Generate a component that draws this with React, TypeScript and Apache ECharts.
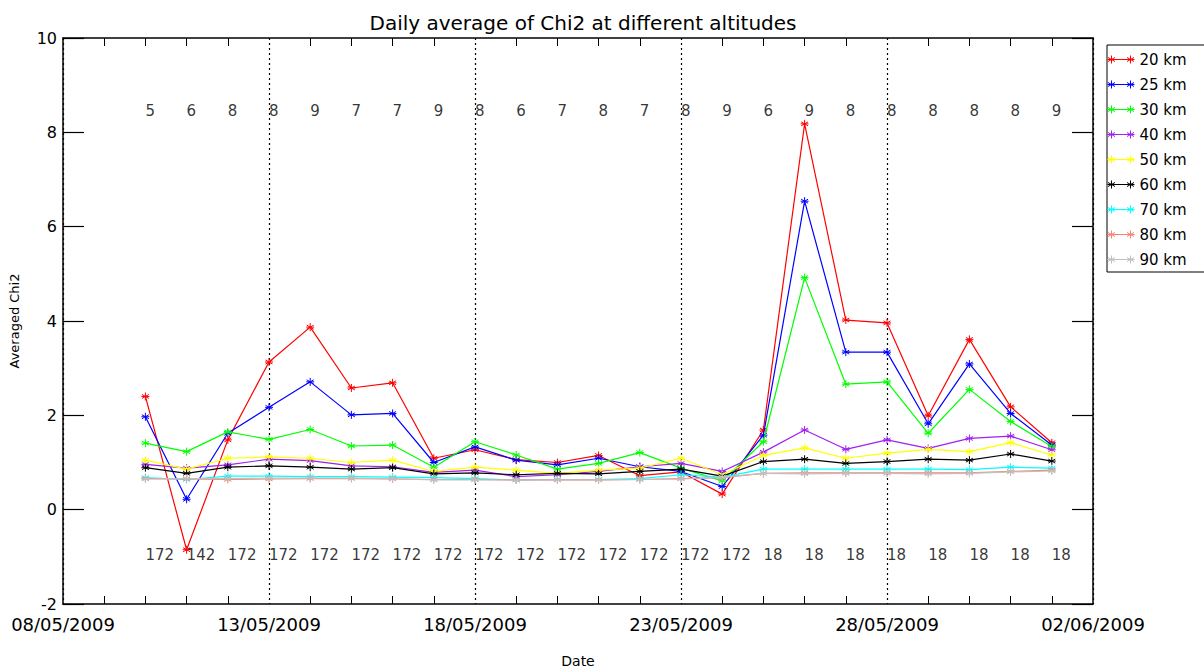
import React, { useEffect, useRef } from "react";
import * as echarts from "echarts";

// Dates of the daily points (10/05/2009 .. 01/06/2009)
const dates = [
  "10/05/2009", "11/05/2009", "12/05/2009", "13/05/2009", "14/05/2009", "15/05/2009",
  "16/05/2009", "17/05/2009", "18/05/2009", "19/05/2009", "20/05/2009", "21/05/2009",
  "22/05/2009", "23/05/2009", "24/05/2009", "25/05/2009", "26/05/2009", "27/05/2009",
  "28/05/2009", "29/05/2009", "30/05/2009", "31/05/2009", "01/06/2009",
];

const xTickLabels = ["08/05/2009", "13/05/2009", "18/05/2009", "23/05/2009", "28/05/2009", "02/06/2009"];

const km20 = [2.4, -0.85, 1.48, 3.13, 3.87, 2.58, 2.69, 1.09, 1.27, 1.06, 1.0, 1.15, 0.72, 0.8, 0.33, 1.69, 8.18, 4.02, 3.96, 1.99, 3.61, 2.18, 1.42];
const km25 = [1.97, 0.22, 1.62, 2.17, 2.71, 2.01, 2.04, 1.0, 1.33, 1.05, 0.95, 1.09, 0.91, 0.81, 0.49, 1.58, 6.54, 3.34, 3.34, 1.82, 3.09, 2.04, 1.37];
const km30 = [1.41, 1.23, 1.65, 1.49, 1.7, 1.35, 1.37, 0.9, 1.44, 1.16, 0.86, 0.98, 1.21, 0.88, 0.61, 1.44, 4.92, 2.66, 2.71, 1.62, 2.55, 1.87, 1.34];
const km40 = [0.96, 0.88, 0.95, 1.07, 1.04, 0.93, 0.91, 0.79, 0.84, 0.7, 0.74, 0.81, 0.91, 0.98, 0.81, 1.22, 1.69, 1.28, 1.48, 1.3, 1.51, 1.56, 1.27];
const km50 = [1.05, 0.86, 1.09, 1.12, 1.09, 1.0, 1.05, 0.81, 0.9, 0.84, 0.77, 0.84, 0.88, 1.09, 0.74, 1.15, 1.31, 1.09, 1.2, 1.28, 1.23, 1.42, 1.16];
const km60 = [0.89, 0.77, 0.9, 0.93, 0.9, 0.86, 0.89, 0.76, 0.78, 0.74, 0.77, 0.76, 0.81, 0.86, 0.71, 1.02, 1.07, 0.98, 1.02, 1.07, 1.05, 1.18, 1.03];
const km70 = [0.68, 0.64, 0.71, 0.71, 0.7, 0.7, 0.69, 0.68, 0.66, 0.63, 0.64, 0.64, 0.66, 0.74, 0.69, 0.86, 0.86, 0.86, 0.86, 0.86, 0.85, 0.9, 0.88];
const km80 = [0.66, 0.65, 0.64, 0.65, 0.66, 0.66, 0.65, 0.64, 0.64, 0.63, 0.63, 0.63, 0.64, 0.66, 0.68, 0.77, 0.78, 0.78, 0.78, 0.78, 0.78, 0.81, 0.84];
const km90 = [0.65, 0.66, 0.66, 0.67, 0.67, 0.67, 0.66, 0.63, 0.63, 0.63, 0.63, 0.63, 0.64, 0.65, 0.69, 0.77, 0.76, 0.77, 0.77, 0.76, 0.77, 0.8, 0.82];

const topCounts = [5, 6, 8, 8, 9, 7, 7, 9, 8, 6, 7, 8, 7, 8, 9, 6, 9, 8, 8, 8, 8, 8, 9];
const bottomCounts = [172, 142, 172, 172, 172, 172, 172, 172, 172, 172, 172, 172, 172, 172, 172, 18, 18, 18, 18, 18, 18, 18, 18];

const seriesNames = ["20 km", "25 km", "30 km", "40 km", "50 km", "60 km", "70 km", "80 km", "90 km"];
const seriesValues = [km20, km25, km30, km40, km50, km60, km70, km80, km90];
const seriesColors = ["#ff0000", "#0000ff", "#00ff00", "#a020f0", "#ffff00", "#000000", "#00ffff", "#fa8072", "#c0c0c0"];

const TOP_LABEL_Y = 8.45;
const BOTTOM_LABEL_Y = -0.96;

const FONT = "DejaVu Sans";

function dayOffset(s: string): number {
  const [d, m, y] = s.split("/").map(Number);
  const [d0, m0, y0] = xTickLabels[0].split("/").map(Number);
  return (Date.UTC(y, m - 1, d) - Date.UTC(y0, m0 - 1, d0)) / 86400000;
}

const STAR = "path://M5,0 L5,10 M0.67,2.5 L9.33,7.5 M0.67,7.5 L9.33,2.5 M0,5 L10,5";
const LEGEND_ICON =
  "path://M0,5 L27,5 M4,1 L4,9 M0.5,3 L7.5,7 M0.5,7 L7.5,3 M23,1 L23,9 M19.5,3 L26.5,7 M19.5,7 L26.5,3";

export default function App() {
  const ref = useRef<HTMLDivElement>(null);

  useEffect(() => {
    if (!ref.current) return;
    const chart = echarts.init(ref.current, null, { renderer: "svg" });
    const xs = dates.map(dayOffset);

    const lineSeries = seriesNames.map((name, i) => ({
      name,
      type: "line",
      data: seriesValues[i].map((v, j) => [xs[j], v]),
      symbol: STAR,
      symbolSize: 8,
      showAllSymbol: true,
      lineStyle: { color: seriesColors[i], width: 1.2 },
      itemStyle: { color: seriesColors[i], borderColor: seriesColors[i], borderWidth: 1 },
      xAxisIndex: 0,
      yAxisIndex: 0,
      z: 2 + i,
    }));

    const countLabel = (size: number) => ({
      show: true,
      position: "inside",
      align: "left",
      verticalAlign: "middle",
      color: "#000",
      fontSize: size,
      fontFamily: FONT,
      formatter: (p: any) => String(p.value[2]),
    });

    const option: any = {
      animation: false,
      textStyle: { fontFamily: FONT, color: "#000" },
      title: {
        text: "Daily average of Chi2 at different altitudes",
        left: 578,
        textAlign: "center",
        top: 8,
        textStyle: { fontSize: 20, fontWeight: "normal", color: "#000", fontFamily: FONT },
      },
      legend: {
        data: seriesNames,
        orient: "vertical",
        left: 1107,
        top: 45,
        icon: LEGEND_ICON,
        itemWidth: 27,
        itemHeight: 10,
        itemGap: 10,
        padding: [7, 80, 5, 0],
        borderColor: "#000",
        borderWidth: 1,
        selectedMode: false,
        itemStyle: { borderWidth: 1 },
        textStyle: { fontSize: 15, lineHeight: 14, color: "#000", fontFamily: FONT },
      },
      grid: { left: 63, top: 38, right: 111, bottom: 64, outerBoundsMode: "none", containLabel: false },
      xAxis: [
        {
          type: "value",
          min: 0,
          max: 25,
          interval: 5,
          position: "bottom",
          name: "Date",
          nameLocation: "middle",
          nameGap: 50,
          nameTextStyle: { fontSize: 14, color: "#000", fontFamily: FONT },
          axisLine: { onZero: false, lineStyle: { color: "#000", width: 1.5 } },
          axisTick: { show: false, inside: true },
          minorTick: { show: true, splitNumber: 5, length: 8, lineStyle: { color: "#000", width: 1 } },
          axisLabel: {
            margin: 11,
            fontSize: 18,
            color: "#000",
            fontFamily: FONT,
            formatter: (v: number) => xTickLabels[Math.round(v / 5)] ?? "",
          },
          splitLine: { show: true, lineStyle: { color: "#000", width: 1.2, type: [2, 3] } },
        },
        {
          type: "value",
          min: 0,
          max: 25,
          interval: 5,
          position: "top",
          axisLine: { onZero: false, lineStyle: { color: "#000", width: 1.5 } },
          axisTick: { show: false, inside: true },
          minorTick: { show: true, splitNumber: 5, length: 8, lineStyle: { color: "#000", width: 1 } },
          axisLabel: { show: false },
          splitLine: { show: false },
        },
      ],
      yAxis: [
        {
          type: "value",
          min: -2,
          max: 10,
          interval: 2,
          position: "left",
          name: "Averaged Chi2",
          nameLocation: "middle",
          nameGap: 42,
          nameRotate: 90,
          nameTextStyle: { fontSize: 13, color: "#000", fontFamily: FONT },
          axisLine: { show: true, onZero: false, lineStyle: { color: "#000", width: 1.5 } },
          axisTick: { show: true, inside: true, length: 21, lineStyle: { color: "#000", width: 1.2 } },
          axisLabel: { margin: 6, fontSize: 16, color: "#000", fontFamily: FONT },
          splitLine: { show: false },
        },
        {
          type: "value",
          min: -2,
          max: 10,
          interval: 2,
          position: "right",
          axisLine: { show: true, onZero: false, lineStyle: { color: "#000", width: 1.5 } },
          axisTick: { show: true, inside: true, length: 21, lineStyle: { color: "#000", width: 1.2 } },
          axisLabel: { show: false },
          splitLine: { show: false },
        },
      ],
      series: [
        ...lineSeries,
        {
          name: "topCounts",
          type: "scatter",
          data: topCounts.map((c, j) => [xs[j], TOP_LABEL_Y, c]),
          symbolSize: 1,
          itemStyle: { color: "rgba(0,0,0,0)" },
          label: countLabel(15),
          z: 20,
        },
        {
          name: "bottomCounts",
          type: "scatter",
          data: bottomCounts.map((c, j) => [xs[j], BOTTOM_LABEL_Y, c]),
          symbolSize: 1,
          itemStyle: { color: "rgba(0,0,0,0)" },
          label: countLabel(15),
          z: 20,
        },
      ],
    };

    chart.setOption(option);
    return () => chart.dispose();
  }, []);

  return (
    <div
      ref={ref}
      style={{ position: "absolute", left: 0, top: 0, width: 1204, height: 668, background: "#fff" }}
    />
  );
}
